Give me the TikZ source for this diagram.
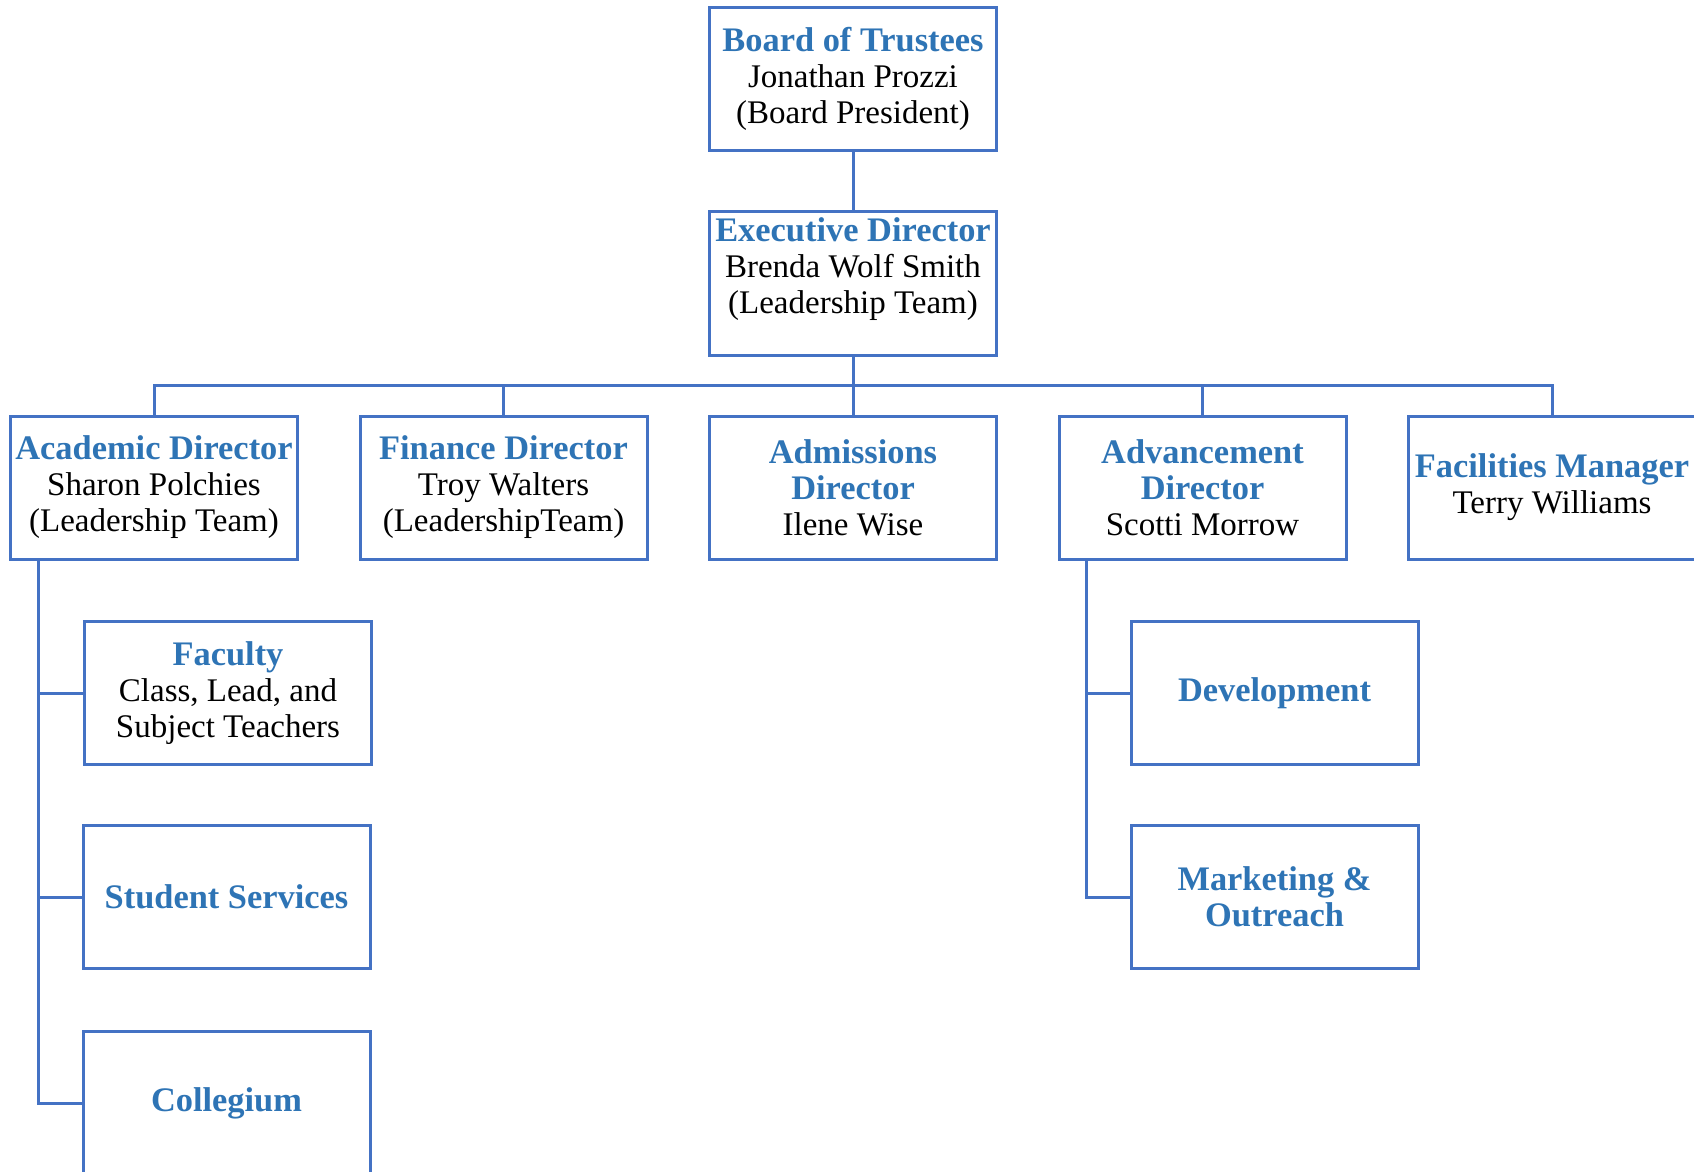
\documentclass[tikz,border=0pt]{standalone}
\usepackage{fontspec}
\setmainfont{Liberation Serif}
\usepackage{tikz}

\definecolor{lineblue}{HTML}{4472C4}
\definecolor{headblue}{HTML}{2E74B5}
\newcommand{\head}[1]{\textcolor{headblue}{\fontsize{17.2}{18}\selectfont\textbf{#1}}}

\tikzset{
	post/.style={rectangle, draw=lineblue, line width=1.5pt, fill=white, minimum width=143.5pt, minimum height=71.5pt, inner sep=0pt, align=center, font=\fontsize{16.5}{18}\selectfont},
	wire/.style={draw=lineblue, line width=1.5pt}
}

\begin{document}
\begin{tikzpicture}[x=0.5pt, y=-0.5pt]
			\fill[white] (0,0) rectangle (1694,1172);
			\clip (0,0) rectangle (1694,1172);
			% Nodes
			\node[post] (board) at (853,79) {\head{Board of Trustees}\\Jonathan Prozzi\\(Board President)};
			\node[post] (exec) at (853,283.5) {\head{Executive Director}\\Brenda Wolf Smith\\(Leadership Team)\\\mbox{}};
			\coordinate (bus) at (853,385);
			\foreach \n/\t [count=\i from 0] in {
				acad/{\head{Academic Director}\\Sharon Polchies\\(Leadership Team)},
				fin/{\head{Finance Director}\\Troy Walters\\(LeadershipTeam)},
				adm/{\head{Admissions}\\\head{Director}\\Ilene Wise},
				adv/{\head{Advancement}\\\head{Director}\\Scotti Morrow},
				fac/{\head{Facilities Manager}\\Terry Williams}} {
				\node[post] (\n) at ({154+349.5*\i},487.5) {\t};
			}
			\node[post] (faculty) at (228,693) {\head{Faculty}\\Class, Lead, and\\Subject Teachers};
			\node[post] (services) at (226.5,897) {\head{Student Services}};
			\node[post] (collegium) at (226.5,1103) {\head{Collegium}};
			\node[post] (develop) at (1274.5,693) {\head{Development}};
			\node[post] (market) at (1274.5,897) {\head{Marketing \&}\\\head{Outreach}};
			% Lines
			\draw[wire] (board) -- (exec);
			\draw[wire] (exec) -- (bus);
			\foreach \n in {acad,fin,adm,adv,fac} {
				\draw[wire] (bus) -| (\n.north);
			}
			\foreach \n in {faculty,services,collegium} {
				\draw[wire] ([xshift=14.5pt]acad.south west) |- (\n.west);
			}
			\foreach \n in {develop,market} {
				\draw[wire] ([xshift=14.5pt]adv.south west) |- (\n.west);
			}
		\end{tikzpicture}
\end{document}
